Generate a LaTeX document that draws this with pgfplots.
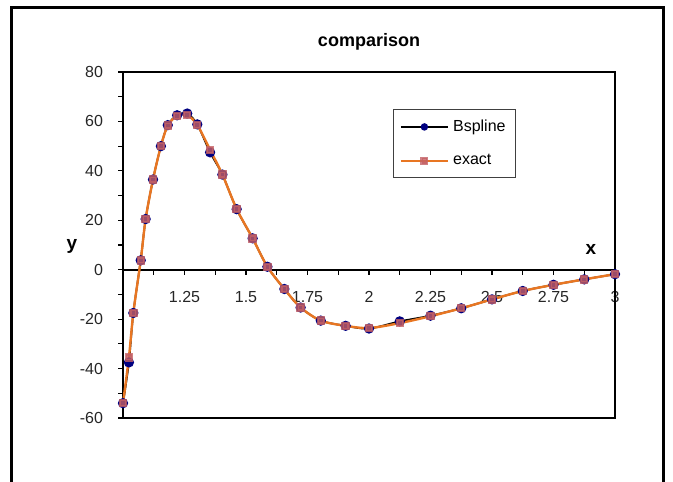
\documentclass[border=0pt]{standalone}
\usepackage{pgfplots}
\pgfplotsset{compat=1.18}
\usepackage{fontspec}
\setmainfont{Liberation Sans}
\definecolor{bnavy}{RGB}{0,0,128}
\definecolor{exorange}{RGB}{232,118,34}
\definecolor{exmark}{RGB}{196,96,100}

\begin{document}
\begin{tikzpicture}[x=1pt,y=1pt]
\path[use as bounding box] (0,0) rectangle (336.5,240.5);
% outer chart frame (bottom edge lies outside the picture)
\draw[line width=1.5pt] (5.5,-1) -- (5.5,236.5) -- (331.5,236.5) -- (331.5,-1);
\node[font=\bfseries\fontsize{9pt}{10pt}\selectfont] at (184.5,219.5) {comparison};
\node[font=\bfseries\fontsize{9.5pt}{10pt}\selectfont] at (36,117.5) {y};
\node[font=\bfseries\fontsize{9.5pt}{10pt}\selectfont] at (295.5,116) {x};
\begin{axis}[
  at={(61.5pt,31.5pt)}, anchor=south west,
  scale only axis, width=246pt, height=173pt,
  xmin=1, xmax=3, ymin=-60, ymax=80,
  axis x line=middle, axis y line=left,
  axis line style={-, line width=0.9pt},
  clip=false,
  tick align=outside,
  major tick length=2.5pt, minor tick length=2.5pt,
  every tick/.style={black, line width=0.6pt},
  xtick={1.25,1.5,1.75,2,2.25,2.5,2.75,3},
  minor xtick={1.125,1.375,1.625,1.875,2.125,2.375,2.625,2.875},
  ytick={-60,-40,-20,0,20,40,60,80},
  minor ytick={-50,-30,-10,10,30,50,70},
  /pgf/number format/assume math mode=true,
  ticklabel style={font=\fontsize{8pt}{9pt}\selectfont, text=black!85},
  xticklabel style={yshift=-5pt},
  yticklabel style={xshift=-4pt},
  legend style={at={(0.549,0.893)}, anchor=north west, draw=black!75,
    line width=0.6pt, font=\fontsize{8pt}{9.6pt}\selectfont,
    row sep=6pt, inner xsep=3pt, inner ysep=3pt},
  legend cell align=left,
  legend image code/.code={
    \draw[mark repeat=2,mark phase=2,#1,mark size=1.4pt]
      plot coordinates {(0pt,0pt) (11.75pt,0pt) (23.5pt,0pt)};
  },
]
\draw[line width=0.9pt] (rel axis cs:0,0) rectangle (rel axis cs:1,1);
\addplot[black, line width=0.9pt, smooth, mark=*, mark size=2.1pt,
  mark options={fill=bnavy, draw=bnavy}]
  table[x=x, y=y] {
x y
1.000 -54.0
1.024 -37.5
1.042 -17.5
1.072 3.8
1.092 20.5
1.122 36.5
1.154 50.0
1.182 58.5
1.220 62.5
1.261 63.2
1.302 58.8
1.354 47.5
1.404 38.5
1.462 24.5
1.527 12.7
1.587 1.2
1.656 -7.8
1.722 -15.3
1.804 -20.6
1.905 -22.7
2.000 -23.8
2.125 -20.9
2.250 -18.6
2.375 -15.6
2.500 -12.0
2.625 -8.6
2.750 -6.1
2.875 -3.9
3.000 -1.8
};
\addlegendentry{Bspline}
\addplot[exorange, line width=1.2pt, smooth, mark=square*, mark size=1.5pt,
  mark options={fill=exmark, draw=exmark, fill opacity=0.8, draw opacity=0.8}]
  table[x=x, y=y] {
x y
1.000 -54.0
1.024 -35.5
1.042 -17.5
1.072 3.8
1.092 20.5
1.122 36.5
1.154 50.0
1.182 58.3
1.220 62.3
1.261 62.5
1.302 58.6
1.354 48.5
1.404 38.5
1.462 24.6
1.527 12.7
1.587 1.2
1.656 -7.8
1.722 -15.3
1.804 -20.6
1.905 -22.7
2.000 -23.6
2.125 -21.6
2.250 -18.8
2.375 -15.6
2.500 -12.0
2.625 -8.6
2.750 -6.1
2.875 -3.9
3.000 -1.8
};
\addlegendentry{exact}
\end{axis}
\end{tikzpicture}
\end{document}
